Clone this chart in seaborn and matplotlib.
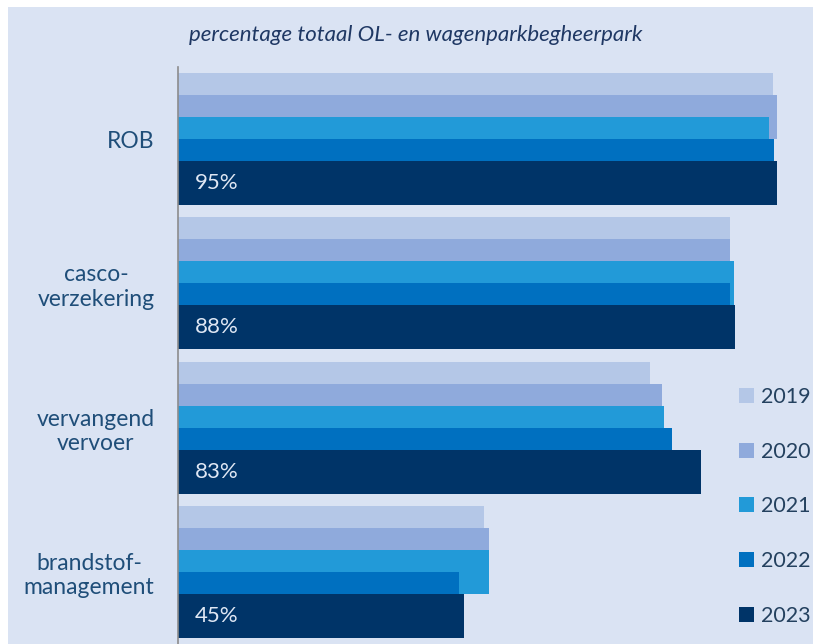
import matplotlib
matplotlib.use("Agg")
import pandas as pd
import matplotlib.pyplot as plt
import seaborn as sns
from matplotlib.patches import Rectangle

# Data: share of total OL- and fleet managed vehicles (%)
categories = ["ROB", "casco-\nverzekering", "vervangend\nvervoer", "brandstof-\nmanagement"]
years = ["2019", "2020", "2021", "2022", "2023"]
v2019 = [94.4, 87.6, 74.9, 48.6]
v2020 = [95.1, 87.6, 76.9, 49.3]
v2021 = [93.8, 88.3, 77.1, 49.3]
v2022 = [94.6, 87.6, 78.4, 44.6]
v2023 = [95.0, 88.4, 83.0, 45.4]
title = "percentage totaal OL- en wagenparkbegheerpark"

colors = ["#b4c7e7", "#8faadc", "#229ad8", "#0070c0", "#003468"]
BG = "#dae3f3"
TXT = "#1f4e79"

series = [v2019, v2020, v2021, v2022, v2023]
df = pd.DataFrame({
    "category": [c for _ in years for c in categories],
    "year": [y for y in years for _ in categories],
    "value": [v for s in series for v in s],
})

sns.set_theme(style="white")
plt.rcParams['font.family'] = ['Lato', 'DejaVu Sans']

W, H = 813, 644
fig = plt.figure(figsize=(W / 100, H / 100), dpi=100, facecolor="white")
fig.patches.append(Rectangle((8 / W, 0), 1 - 8 / W, 1 - 7 / H, transform=fig.transFigure,
                             facecolor=BG, edgecolor="none", zorder=-10))

ax = fig.add_axes([178 / W, 0, 630 / W, (H - 67) / H])
ax.set_facecolor("none")

sns.barplot(data=df, y="category", x="value", hue="year", orient="h",
            palette=colors, saturation=1, width=0.764, errorbar=None,
            linewidth=0, ax=ax)

# Excel-style overlapping bars: each bar twice as tall, next one drawn on top
for cont in ax.containers:
    for p in cont:
        h = p.get_height()
        p.set_y(p.get_y() - h / 2)
        p.set_height(2 * h)

# value labels inside the 2023 bars
for p, v in zip(ax.containers[-1], v2023):
    ax.text(p.get_x() + 2.6, p.get_y() + p.get_height() / 2, f"{v:.0f}%",
            ha="left", va="center", fontsize=16, color="#dfe7f4")

ax.set_ylim(3.5, -0.5)
ax.set_xlim(0, 100)
ax.set_xticks([])
ax.set_xlabel("")
ax.set_ylabel("")
ax.tick_params(axis="y", length=0, pad=17, labelsize=16.5, labelcolor=TXT)
for lbl in ax.get_yticklabels():
    lbl.set_multialignment("center")

for s in ["top", "right", "bottom"]:
    ax.spines[s].set_visible(False)
ax.spines["left"].set_color("#8c8c8c")
ax.spines["left"].set_linewidth(1.2)

sns.move_legend(ax, "upper left", bbox_to_anchor=(739 / W, 1 - 387 / H),
                bbox_transform=fig.transFigure, frameon=False, title=None,
                fontsize=15.5, labelspacing=1.61, handlelength=0.7,
                handleheight=0.7, handletextpad=0.3, borderpad=0,
                borderaxespad=0)
for t in ax.get_legend().get_texts():
    t.set_color("#24415f")

fig.text(416 / W, 1 - 35 / H, title, ha="center", va="center",
         style="italic", fontsize=16, color="#1f3864")

fig.savefig("out.png", dpi=100)
